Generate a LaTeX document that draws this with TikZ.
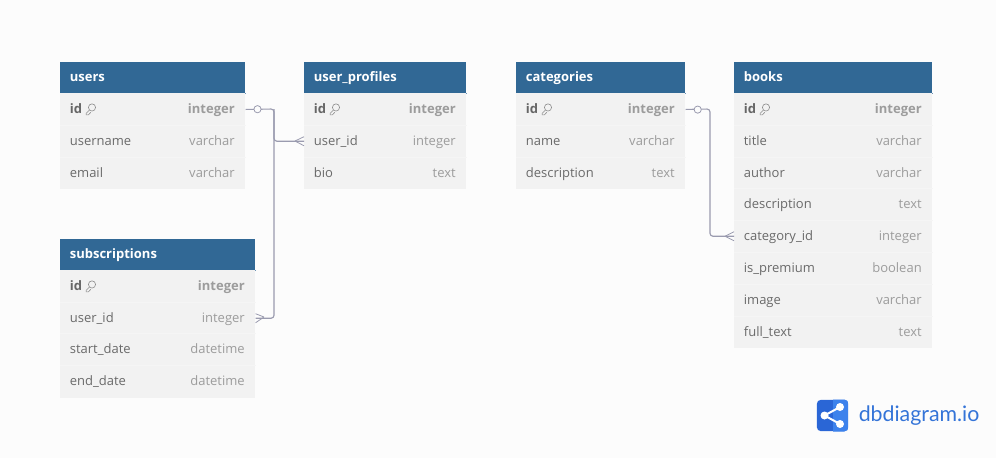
\documentclass[tikz,border=0pt]{standalone}
\usepackage{fontspec}
\setmainfont{Open Sans}
\newfontfamily\logofont{Lato}
\definecolor{pagebg}{HTML}{FCFCFC}
\definecolor{headblue}{HTML}{316895}
\definecolor{headline}{HTML}{6C93B5}
\definecolor{rowbg}{HTML}{F2F2F2}
\definecolor{rowline}{HTML}{F5F5F5}
\definecolor{nametxt}{HTML}{6A6A6A}
\definecolor{typetxt}{HTML}{9C9C9C}
\definecolor{pktxt}{HTML}{666666}
\definecolor{linkcol}{HTML}{9A9BAF}
\definecolor{logoblue}{HTML}{3474D8}
\definecolor{logodark}{HTML}{2A66D6}
\definecolor{logolight}{HTML}{3D82EC}
\tikzset{
  x=0.75pt,y=-0.75pt,
  tablehead/.style={fill=headblue,draw=none,inner sep=0pt,minimum height=23.4pt,anchor=north west},
  headtext/.style={text=white,font=\fontsize{9.75pt}{11pt}\selectfont\bfseries,anchor=west,inner sep=0pt,text height=7.2pt,text depth=2pt},
  tablerow/.style={fill=rowbg,draw=none,inner sep=0pt,minimum height=23.95pt,anchor=north west},
  fieldname/.style={text=nametxt,font=\fontsize{9.75pt}{11pt}\selectfont,anchor=west,inner sep=0pt,text height=7.2pt,text depth=2pt},
  fieldtype/.style={text=typetxt,font=\fontsize{9.75pt}{11pt}\selectfont,anchor=east,inner sep=0pt,text height=7.2pt,text depth=2pt},
  pkname/.style={fieldname,text=pktxt,font=\fontsize{9.75pt}{11pt}\selectfont\bfseries},
  pktype/.style={fieldtype,font=\fontsize{9.75pt}{11pt}\selectfont\bfseries},
  link/.style={draw=linkcol,line width=0.85pt,rounded corners=2.2pt},
  crow/.style={draw=linkcol,line width=0.6pt},
  ringmark/.style={circle,draw=linkcol,fill=pagebg,line width=0.6pt,minimum size=5.4pt,inner sep=0pt},
  keyicon/.style={draw=typetxt!90!black,line width=0.45pt,line cap=round,line join=round},
}
% name, x, y, width, title
\newcommand{\dbhead}[5]{%
  \node[tablehead,minimum width=#4*0.75pt] (#1) at (#2,#3) {};
  \node[headtext] (#1-title) at ([xshift=7.2pt]#1.west) {#5};
  \draw[headline,line width=0.5pt] ([yshift=0.2pt]#1.south west) -- ([yshift=0.2pt]#1.south east);
}
% table, field, x, top y, width, label, type
\newcommand{\dbrow}[7]{%
  \node[tablerow,minimum width=#5*0.75pt] (#1-#2) at (#3,#4) {};
  \node[fieldname] (#1-#2-l) at ([xshift=7.2pt,yshift=-0.7pt]#1-#2.west) {#6};
  \node[fieldtype] (#1-#2-t) at ([xshift=-7.9pt,yshift=-0.7pt]#1-#2.east) {#7};
  \draw[rowline,line width=0.5pt] (#1-#2.north west) -- (#1-#2.north east);
}
\newcommand{\dbpk}[5]{%
  \node[tablerow,minimum width=#4*0.75pt] (#1-id) at (#2,#3) {};
  \node[pkname] (#1-id-l) at ([xshift=7.2pt,yshift=-0.7pt]#1-id.west) {id};
  \node[pktype] (#1-id-t) at ([xshift=-7.9pt,yshift=-0.7pt]#1-id.east) {#5};
  \draw[keyicon,fill=rowbg] ([xshift=24pt,yshift=1.5pt]#1-id.west) circle (2.7pt);
  \draw[keyicon] ([xshift=22.1pt,yshift=-0.4pt]#1-id.west) -- ([xshift=19.6pt,yshift=-3pt]#1-id.west) -- ([xshift=19.6pt,yshift=-4.1pt]#1-id.west) -- ([xshift=21.3pt,yshift=-4.1pt]#1-id.west) -- ([xshift=23pt,yshift=-2.2pt]#1-id.west);
}
\begin{document}
\begin{tikzpicture}
\useasboundingbox[fill=pagebg] (0,0) rectangle (996,458);

% users
\dbhead{users}{60}{62}{185}{users}
\dbpk{users}{60}{93.2}{185}{integer}
\dbrow{users}{username}{60}{125}{185}{username}{varchar}
\dbrow{users}{email}{60}{157}{185}{email}{varchar}

% user_profiles
\dbhead{profiles}{304}{62}{162}{user\_profiles}
\dbpk{profiles}{304}{93.2}{162}{integer}
\dbrow{profiles}{userid}{304}{125}{162}{user\_id}{integer}
\dbrow{profiles}{bio}{304}{157}{162}{bio}{text}

% categories
\dbhead{categories}{516}{62}{169}{categories}
\dbpk{categories}{516}{93.2}{169}{integer}
\dbrow{categories}{name}{516}{125}{169}{name}{varchar}
\dbrow{categories}{description}{516}{157}{169}{description}{text}

% books
\dbhead{books}{734}{62}{198}{books}
\dbpk{books}{734}{93.2}{198}{integer}
\dbrow{books}{title}{734}{125}{198}{title}{varchar}
\dbrow{books}{author}{734}{157}{198}{author}{varchar}
\dbrow{books}{description}{734}{188}{198}{description}{text}
\dbrow{books}{categoryid}{734}{220}{198}{category\_id}{integer}
\dbrow{books}{ispremium}{734}{252}{198}{is\_premium}{boolean}
\dbrow{books}{image}{734}{284}{198}{image}{varchar}
\dbrow{books}{fulltext}{734}{316}{198}{full\_text}{text}

% subscriptions
\dbhead{subs}{60}{239}{195}{subscriptions}
\dbpk{subs}{60}{270.2}{195}{integer}
\dbrow{subs}{userid}{60}{302}{195}{user\_id}{integer}
\dbrow{subs}{startdate}{60}{333}{195}{start\_date}{datetime}
\dbrow{subs}{enddate}{60}{365}{195}{end\_date}{datetime}
\fill[rowbg] ([yshift=0.1pt]subs-enddate.south west) rectangle (255,398);

% connectors
\coordinate (busA) at (274,109);
\coordinate (busB) at (710,109);
\draw[link] (users-id.east) -- (busA) |- (profiles-userid.west);
\draw[link] (busA) |- (subs-userid.east);
\draw[link] (categories-id.east) -- (busB) |- (books-categoryid.west);
\node[ringmark] (ringA) at (257.5,109.2) {};
\node[ringmark] (ringB) at (697.7,109.6) {};
% crow's feet
\coordinate (apexA) at (295,141);
\coordinate (apexB) at (725,236.2);
\coordinate (apexC) at (264,317);
\draw[crow] (apexA) -- ([yshift=3.4pt]profiles-userid.west) (apexA) -- ([yshift=-3.4pt]profiles-userid.west);
\draw[crow] (apexB) -- ([yshift=3.4pt]books-categoryid.west) (apexB) -- ([yshift=-3.4pt]books-categoryid.west);
\draw[crow] (apexC) -- ([yshift=3.4pt]subs-userid.east) (apexC) -- ([yshift=-3.4pt]subs-userid.east);

% logo
\node[fill=logodark,rounded corners=3.2pt,minimum size=23.6pt,inner sep=0pt] (logo) at (832.5,415.5) {};
\begin{scope}
  \clip[rounded corners=3.2pt] (logo.south west) rectangle (logo.north east);
  \fill[logolight] (833,399) rectangle (849,432);
\end{scope}
\draw[white,line width=1.5pt] (840,407) -- (824.5,415.5) -- (840,424);
\fill[white] (824.5,415.5) circle (3pt) (840,407) circle (3pt) (840,424) circle (3pt);
\node[text=logoblue,font=\logofont\fontsize{16pt}{18pt}\selectfont,anchor=west,inner sep=0pt] (logotext) at (858.5,416) {dbdiagram.io};
\end{tikzpicture}
\end{document}
